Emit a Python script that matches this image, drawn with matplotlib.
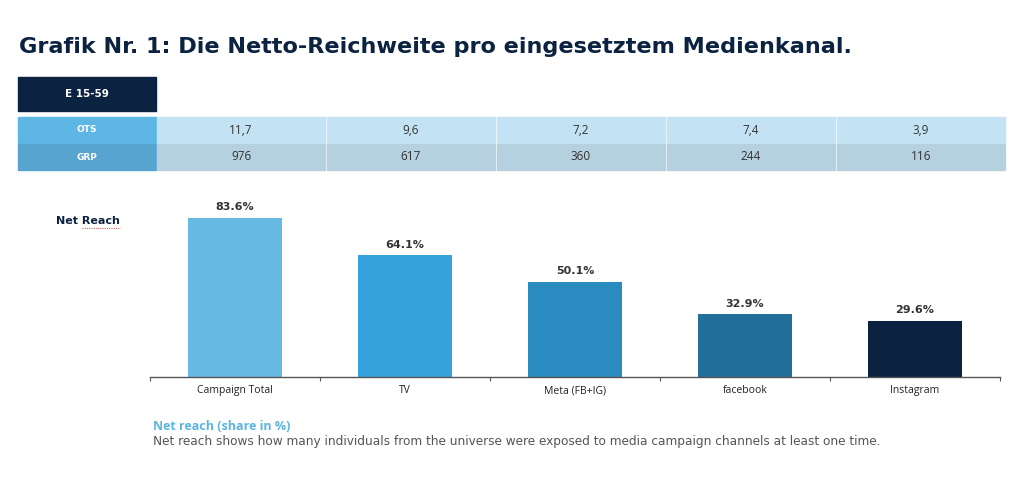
import matplotlib.pyplot as plt
from matplotlib.patches import Rectangle

plt.rcParams['font.family'] = ['Open Sans', 'DejaVu Sans']

# data
channels = ['Campaign Total', 'TV', 'Meta (FB+IG)', 'facebook', 'Instagram']
net_reach = [83.6, 64.1, 50.1, 32.9, 29.6]
ots = ['11,7', '9,6', '7,2', '7,4', '3,9']
grp = ['976', '617', '360', '244', '116']
bar_colors = ['#67bae3', '#36a2dc', '#2a8bc0', '#226f9c', '#0b2240']

NAVY = '#0b2240'
WIDE = ['DejaVu Sans']

fig = plt.figure(figsize=(10.24, 4.79), dpi=100)

# overlay in pixel coordinates for title, table and notes
lay = fig.add_axes([0, 0, 1, 1])
lay.set_xlim(0, 1024)
lay.set_ylim(479, 0)
lay.axis('off')

lay.text(19, 47, 'Grafik Nr. 1: Die Netto-Reichweite pro eingesetztem Medienkanal.',
         fontsize=16.1, fontweight='bold', color=NAVY, va='center', ha='left', family=WIDE)

# table
lay.add_patch(Rectangle((18, 77), 138, 34, color=NAVY))
lay.text(87, 94, 'E 15-59', color='white', fontsize=7.5, fontweight='bold', ha='center', va='center',
         family=WIDE)

rows = [('OTS', ots, '#5db6e4', '#c3e3f4', 117), ('GRP', grp, '#58a4d1', '#b5d0df', 144)]
for name, vals, lab_c, cell_c, y0 in rows:
    lay.add_patch(Rectangle((18, y0), 138, 26, color=lab_c))
    lay.text(87, y0 + 13, name, color='white', fontsize=6.5, fontweight='bold', ha='center', va='center',
             family=WIDE)
    for i, v in enumerate(vals):
        x0 = 157 + i * 170
        lay.add_patch(Rectangle((x0, y0), 168, 26, color=cell_c))
        lay.text(x0 + 84, y0 + 13, v, color='#333333', fontsize=8.5, ha='center', va='center')

lay.text(56, 221, 'Net Reach', fontsize=8, fontweight='bold', color=NAVY, ha='left', va='center',
         family=WIDE)
lay.plot([82, 120], [228, 228], color='#e06060', lw=0.8, ls=(0, (1, 1)))

lay.text(153, 426, 'Net reach (share in %)', fontsize=9, fontweight='bold', color='#5bb5e0',
         ha='left', va='center')
lay.text(153, 441, 'Net reach shows how many individuals from the universe were exposed to '
         'media campaign channels at least one time.', fontsize=8.7, color='#555555',
         ha='left', va='center', family=WIDE)

# bar chart
ax = fig.add_axes([150 / 1024, (479 - 377) / 479, 850 / 1024, 190 / 479])
x = list(range(len(channels)))
bars = ax.bar(x, net_reach, width=0.55, color=bar_colors)
for b, v in zip(bars, net_reach):
    ax.text(b.get_x() + b.get_width() / 2, v + 3, f'{v:.1f}%', ha='center', va='bottom',
            fontsize=8, fontweight='bold', color='#333333', family=WIDE)

ax.set_xlim(-0.5, len(channels) - 0.5)
ax.set_ylim(0, 100)
for s in ['top', 'right', 'left']:
    ax.spines[s].set_visible(False)
ax.spines['bottom'].set_color('#555555')
ax.spines['bottom'].set_linewidth(1)
ax.set_yticks([])
ax.set_xticks([i - 0.5 for i in range(len(channels) + 1)])
ax.set_xticklabels([])
ax.tick_params(axis='x', which='major', length=3, color='#555555')
ax.set_xticks(x, minor=True)
ax.set_xticklabels(channels, minor=True, fontsize=7.5, color='#222222')
ax.tick_params(axis='x', which='minor', length=0, pad=6)

fig.savefig('out.png', dpi=100)
